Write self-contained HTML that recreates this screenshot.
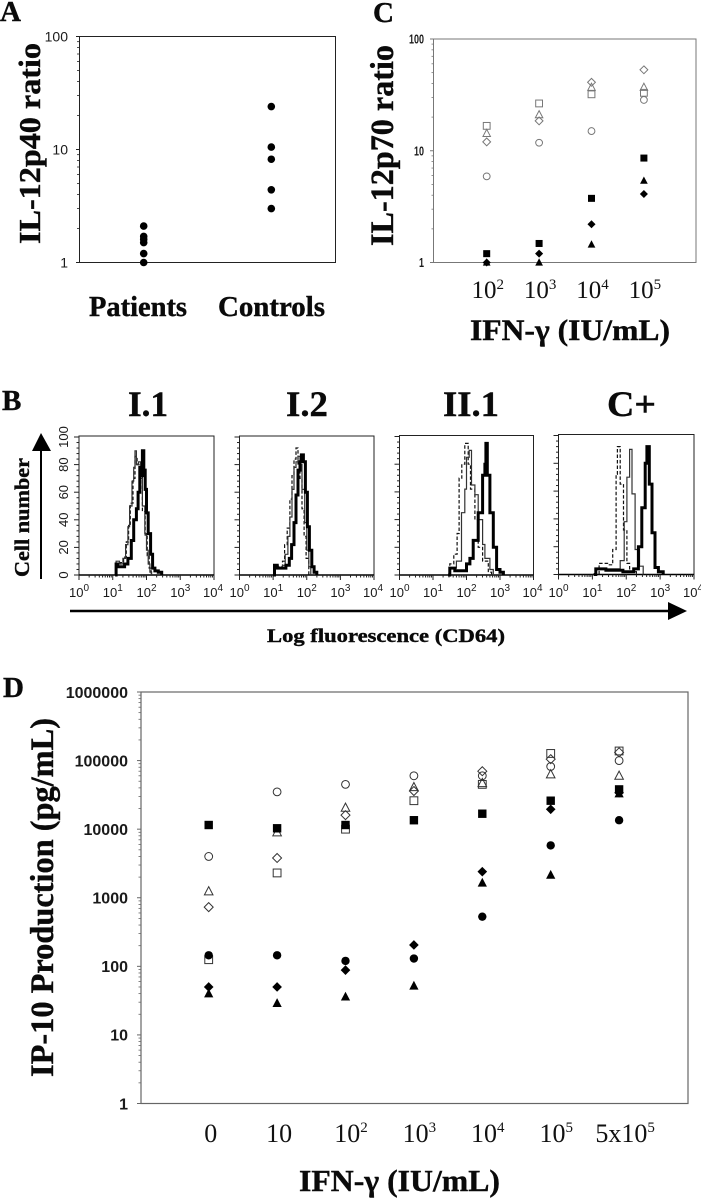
<!DOCTYPE html>
<html lang="en">
<head>
<meta charset="utf-8">
<title>Cytokine response panels</title>
<style>
  html, body { margin: 0; padding: 0; background: #fff; }
  svg { display: block; }
  .serif { font-family: "Liberation Serif", serif; font-weight: bold; fill: #0a0a0a; stroke: #0a0a0a; stroke-width: 0.4; }
  .sans { font-family: "Liberation Sans", sans-serif; fill: #1a1a1a; }
</style>
</head>
<body>
<svg id="figure" xmlns="http://www.w3.org/2000/svg" width="701" height="1199" viewBox="0 0 701 1199">
  <rect x="0" y="0" width="701" height="1199" fill="#fff"/>

  <text class="serif" x="0" y="21" font-size="29">A</text>
  <text class="serif" transform="translate(40,244) rotate(-90)" font-size="31" textLength="201" lengthAdjust="spacingAndGlyphs">IL-12p40 ratio</text>
  <text class="serif" x="89" y="316" font-size="28" textLength="98" lengthAdjust="spacingAndGlyphs">Patients</text>
  <text class="serif" x="218" y="316" font-size="28" textLength="107" lengthAdjust="spacingAndGlyphs">Controls</text>

  <text class="serif" x="373" y="22" font-size="29">C</text>
  <text class="serif" transform="translate(393,246) rotate(-90)" font-size="33" textLength="201" lengthAdjust="spacingAndGlyphs">IL-12p70 ratio</text>
  <text class="serif" x="470" y="340" font-size="30" textLength="200" lengthAdjust="spacingAndGlyphs">IFN-γ (IU/mL)</text>

  <text class="serif" x="2" y="410" font-size="29">B</text>
  <text class="serif" x="128" y="416" font-size="36" textLength="40" lengthAdjust="spacingAndGlyphs">I.1</text>
  <text class="serif" x="286" y="416" font-size="36" textLength="42" lengthAdjust="spacingAndGlyphs">I.2</text>
  <text class="serif" x="443" y="416" font-size="36" textLength="56" lengthAdjust="spacingAndGlyphs">II.1</text>
  <text class="serif" x="607" y="416" font-size="36" textLength="49" lengthAdjust="spacingAndGlyphs">C+</text>
  <text class="serif" transform="translate(29,577) rotate(-90)" font-size="21" textLength="119" lengthAdjust="spacingAndGlyphs">Cell number</text>
  <line x1="41" y1="579" x2="41" y2="448" stroke="#000" stroke-width="2"/>
  <polygon points="41,433 32,451 51,451" fill="#000"/>
  <line x1="70" y1="611" x2="670" y2="611" stroke="#000" stroke-width="2.6"/>
  <polygon points="687,611 668,602 668,620" fill="#000"/>
  <text class="serif" x="267" y="642" font-size="19" textLength="238" lengthAdjust="spacingAndGlyphs">Log fluorescence (CD64)</text>

  <text class="serif" x="3" y="697" font-size="29">D</text>
  <text class="serif" transform="translate(53,1077) rotate(-90)" font-size="33" textLength="359" lengthAdjust="spacingAndGlyphs">IP-10 Production (pg/mL)</text>
  <text class="serif" x="299" y="1191" font-size="31" textLength="201" lengthAdjust="spacingAndGlyphs">IFN-γ (IU/mL)</text>
</svg>

<script>
// ---------- Panel A ----------
const aCategories = ['Patients', 'Controls'];
const aPatients = [2.1, 1.7, 1.6, 1.5, 1.2, 1.0];
const aControls = [24, 10.5, 8.2, 4.4, 3.0];
const aTickLabels = [1, 10, 100];

// ---------- Panel C ----------
const cExponents = [2, 3, 4, 5];
const cTickLabels = [1, 10, 100];
const cOpenSquare = [16.7, 26.5, 32, 33];
const cOpenTriangle = [14.3, 21, 37, 37];
const cOpenDiamond = [12, 18.5, 41, 53];
const cOpenCircle = [5.9, 11.8, 15, 28.5];
const cFilledSquare = [1.2, 1.48, 3.75, 8.6];
const cFilledDiamond = [1.0, 1.2, 2.2, 4.1];
const cFilledTriangle = [1.0, 1.0, 1.45, 5.4];

// ---------- Panel D ----------
const dBases = ['0', '10', '10', '10', '10', '10', '5x10'];
const dExponents = ['', '', '2', '3', '4', '5', '5'];
const dTickLabels = [1, 10, 100, 1000, 10000, 100000, 1000000];
const dOpenCircle = [4000, 35000, 45000, 60000, 60000, 82000, 100000];
const dOpenTriangle = [1240, 9000, 20500, 41000, 47000, 63000, 60000];
const dOpenDiamond = [730, 3800, 16000, 36000, 70000, 105000, 132000];
const dOpenSquare = [125, 2300, 10000, 26000, 45000, 127000, 138000];
const dFilledSquare = [11500, 10300, 11500, 13500, 16800, 26000, 38000];
const dFilledCircle = [145, 145, 120, 130, 530, 5800, 13500];
const dFilledDiamond = [50, 50, 88, 205, 2400, 19500, 34000];
const dFilledTriangle = [40, 29, 36, 52, 1650, 2150, 33000];

// ---------- Panel B histograms: log10 fluorescence and cell counts ----------
const histYTicks = [0, 20, 40, 60, 80, 100];
const i1ThickLog = [1.07, 1.1, 1.15, 1.25, 1.35, 1.45, 1.55, 1.62, 1.7, 1.75, 1.8, 1.84, 1.88, 1.92, 1.96, 2.0, 2.05, 2.12, 2.18, 2.25, 2.35, 2.45];
const i1ThickCount = [0, 8, 6, 6, 8, 12, 25, 40, 48, 60, 78, 72, 90, 76, 62, 45, 30, 15, 5, 3, 2, 0];
const i1ThinLog = [1.05, 1.1, 1.2, 1.3, 1.38, 1.45, 1.5, 1.57, 1.62, 1.66, 1.7, 1.76, 1.82, 1.88, 1.95, 2.0, 2.05, 2.1, 2.15];
const i1ThinCount = [0, 10, 8, 12, 22, 35, 50, 68, 78, 90, 80, 82, 70, 50, 30, 18, 8, 2, 0];
const i1DashLog = [1.05, 1.12, 1.22, 1.32, 1.4, 1.47, 1.52, 1.6, 1.66, 1.72, 1.8, 1.88, 1.96, 2.02, 2.08, 2.14];
const i1DashCount = [0, 8, 9, 13, 24, 36, 52, 70, 86, 80, 76, 46, 28, 14, 5, 0];

const i2ThickLog = [1.0, 1.04, 1.12, 1.25, 1.38, 1.48, 1.55, 1.62, 1.68, 1.74, 1.8, 1.84, 1.9, 1.96, 2.02, 2.08, 2.15, 2.22, 2.3];
const i2ThickCount = [0, 7, 5, 5, 7, 12, 22, 38, 58, 76, 82, 87, 82, 60, 35, 18, 6, 2, 0];
const i2ThinLog = [1.0, 1.05, 1.15, 1.28, 1.36, 1.44, 1.5, 1.56, 1.62, 1.68, 1.74, 1.8, 1.86, 1.94, 2.0, 2.06, 2.12];
const i2ThinCount = [0, 7, 5, 7, 15, 28, 42, 62, 78, 82, 86, 80, 62, 38, 18, 6, 0];
const i2DashLog = [1.0, 1.06, 1.16, 1.28, 1.34, 1.42, 1.5, 1.56, 1.62, 1.68, 1.74, 1.8, 1.86, 1.92, 1.98, 2.06];
const i2DashCount = [0, 6, 6, 10, 22, 34, 55, 72, 84, 92, 80, 70, 48, 28, 12, 0];

const ii1ThickLog = [1.45, 1.5, 1.65, 1.8, 2.0, 2.1, 2.2, 2.35, 2.48, 2.55, 2.58, 2.62, 2.7, 2.8, 2.9, 3.0, 3.1];
const ii1ThickCount = [0, 5, 3, 3, 8, 12, 25, 45, 72, 80, 95, 72, 45, 20, 4, 2, 0];
const ii1ThinLog = [1.45, 1.5, 1.62, 1.7, 1.85, 1.95, 2.0, 2.08, 2.15, 2.25, 2.35, 2.48, 2.55, 2.7, 2.8];
const ii1ThinCount = [0, 5, 5, 10, 45, 62, 85, 90, 65, 58, 40, 22, 12, 4, 0];
const ii1DashLog = [1.45, 1.5, 1.62, 1.72, 1.78, 1.86, 1.95, 2.05, 2.12, 2.25, 2.35, 2.48, 2.65, 2.75];
const ii1DashCount = [0, 8, 15, 30, 70, 80, 95, 80, 62, 40, 20, 10, 2, 0];

const cpThickLog = [1.04, 1.1, 1.4, 1.6, 1.9, 2.1, 2.22, 2.36, 2.46, 2.56, 2.61, 2.68, 2.76, 2.85, 2.95, 3.09];
const cpThickCount = [0, 4, 3, 3, 2, 2, 4, 20, 48, 80, 92, 65, 30, 5, 2, 0];
const cpThinLog = [1.04, 1.1, 1.45, 1.7, 1.82, 1.94, 2.02, 2.1, 2.17, 2.26, 2.39, 2.5];
const cpThinCount = [0, 4, 4, 4, 10, 38, 70, 90, 58, 18, 6, 0];
const cpDashLog = [1.04, 1.2, 1.45, 1.6, 1.7, 1.74, 1.82, 1.92, 2.02, 2.1, 2.3];
const cpDashCount = [0, 8, 7, 18, 72, 92, 65, 32, 8, 2, 0];

const NS = 'http://www.w3.org/2000/svg';
const root = document.getElementById('figure');

function make(tag, parent, attrs) {
  const el = document.createElementNS(NS, tag);
  for (const k in attrs) el.setAttribute(k, attrs[k]);
  parent.appendChild(el);
  return el;
}

function logScale(bottom, top, minVal, maxVal) {
  const lo = Math.log10(minVal), hi = Math.log10(maxVal);
  return v => bottom - (Math.log10(v) - lo) / (hi - lo) * (bottom - top);
}

function marker(parent, shape, x, y, r, open, stroke, name) {
  const line = open ? stroke : '#000';
  const sw = open ? 1 : 0;
  const common = { fill: open ? 'none' : '#000', stroke: line, 'stroke-width': sw };
  let el;
  if (shape === 'circle') {
    el = make('circle', parent, Object.assign({ cx: x, cy: y, r: r }, common));
  } else if (shape === 'square') {
    el = make('rect', parent, Object.assign({ x: x - r, y: y - r, width: 2 * r, height: 2 * r }, common));
  } else if (shape === 'diamond') {
    el = make('polygon', parent, Object.assign({ points: [[x, y - r * 1.15], [x + r * 1.15, y], [x, y + r * 1.15], [x - r * 1.15, y]].join(' ') }, common));
  } else {
    el = make('polygon', parent, Object.assign({ points: [[x, y - r * 1.2], [x + r * 1.1, y + r * 0.9], [x - r * 1.1, y + r * 0.9]].join(' ') }, common));
  }
  
  
  return el;
}

function logFrame(name, box, yOf, decades, color, labelSize, labelX, labelWeight, major, minor, width, charWidth) {
  const g = make('g', root, {});
  
  
  const frame = make('rect', g, { x: box.x0, y: box.y0, width: box.x1 - box.x0, height: box.y1 - box.y0, fill: 'none', stroke: color, 'stroke-width': width });
  
  
  decades.forEach((d, i) => {
    const y = yOf(d);
    const mj = make('line', g, { x1: box.x0 - major, x2: box.x0, y1: y, y2: y, stroke: color, 'stroke-width': 1 });
    
    
    const t = make('text', g, { x: labelX, y: y + labelSize * 0.36, 'font-size': labelSize, 'text-anchor': 'end', class: 'sans', 'font-weight': labelWeight });
    t.textContent = d;
    if (charWidth) {
      t.setAttribute('textLength', String(d).length * charWidth);
      t.setAttribute('lengthAdjust', 'spacingAndGlyphs');
    }
    
    
    if (i < decades.length - 1) {
      for (let m = 2; m < 10; m++) {
        const ym = yOf(d * m);
        const mn = make('line', g, { x1: box.x0 - minor, x2: box.x0, y1: ym, y2: ym, stroke: color, 'stroke-width': 0.8 });
        
        
      }
    }
  });
}

function powerLabel(cx, baseline, base, exp, size, supSize, rise, name) {
  const t = make('text', root, { x: cx, y: baseline, 'font-size': size, 'text-anchor': 'middle', style: 'font-family:"Liberation Serif",serif;fill:#111' });
  const b = make('tspan', t, {});
  b.textContent = base;
  if (exp !== '') {
    const s = make('tspan', t, { dy: -rise, 'font-size': supSize });
    s.textContent = exp;
  }
  
  
  return t;
}

// Panel A render
const aBox = { x0: 79.5, x1: 335.5, y0: 36.5, y1: 262.5 };
const aY = logScale(aBox.y1, aBox.y0, 1, 100);
const aX = i => 143.7 + i * 127.6;
logFrame('panel-a', aBox, aY, aTickLabels, '#222', 14, 68, 'normal', 3.5, 2.5, 1, 0);
[aPatients, aControls].forEach((series, i) => {
  series.forEach(v => marker(root, 'circle', aX(i), aY(v), 3.8, false, '#000', 'point-' + aCategories[i].toLowerCase()));
});

// Panel C render
const cBox = { x0: 433.5, x1: 696, y0: 39, y1: 262.5 };
const cY = logScale(cBox.y1, cBox.y0, 1, 100);
const cX = i => 486.7 + i * 52.4;
logFrame('panel-c', cBox, cY, cTickLabels, '#777', 12.5, 424, 'bold', 3.5, 2, 1, 5);
const cSeries = [
  ['square', true, cOpenSquare, 'open-square'],
  ['triangle', true, cOpenTriangle, 'open-triangle'],
  ['diamond', true, cOpenDiamond, 'open-diamond'],
  ['circle', true, cOpenCircle, 'open-circle'],
  ['square', false, cFilledSquare, 'filled-square'],
  ['diamond', false, cFilledDiamond, 'filled-diamond'],
  ['triangle', false, cFilledTriangle, 'filled-triangle']
];
cSeries.forEach(s => {
  s[2].forEach((v, i) => marker(root, s[0], cX(i), cY(v), s[1] ? 3.4 : 3.5, s[1], '#777', 'panel-c-' + s[3] + '-point'));
});
cExponents.forEach((e, i) => powerLabel(cX(i) + 1, 298, '10', String(e), 25, 15, 9, 'panel-c-x-tick-label'));

// Panel D render
const dBox = { x0: 141, x1: 688, y0: 692, y1: 1103.5 };
const dY = logScale(dBox.y1, dBox.y0, 1, 1000000);
const dX = i => 208.7 + i * 68.4;
logFrame('panel-d', dBox, dY, dTickLabels, '#666', 16, 128, 'bold', 4, 2.5, 1.2, 0);
const dSeries = [
  ['circle', true, dOpenCircle, 'open-circle'],
  ['triangle', true, dOpenTriangle, 'open-triangle'],
  ['diamond', true, dOpenDiamond, 'open-diamond'],
  ['square', true, dOpenSquare, 'open-square'],
  ['square', false, dFilledSquare, 'filled-square'],
  ['circle', false, dFilledCircle, 'filled-circle'],
  ['diamond', false, dFilledDiamond, 'filled-diamond'],
  ['triangle', false, dFilledTriangle, 'filled-triangle']
];
dSeries.forEach(s => {
  s[2].forEach((v, i) => marker(root, s[0], dX(i), dY(v), s[1] ? 3.9 : 4.2, s[1], '#333', 'panel-d-' + s[3] + '-point'));
});
dBases.forEach((b, i) => {
  const off = i < 2 ? 2 : (i === 6 ? 6 : 5.5);
  powerLabel(dX(i) + off, 1142, b, dExponents[i], 26, 15, 10, 'panel-d-x-tick-label');
});

// Panel B render
const histPanels = [
  { name: 'i1', x0: 79, x1: 214, top: 436, base: 575, labels: true,
    curves: [[i1DashLog, i1DashCount, 'dash'], [i1ThinLog, i1ThinCount, 'thin'], [i1ThickLog, i1ThickCount, 'thick']] },
  { name: 'i2', x0: 239.5, x1: 374, top: 436, base: 575, labels: false,
    curves: [[i2DashLog, i2DashCount, 'dash'], [i2ThinLog, i2ThinCount, 'thin'], [i2ThickLog, i2ThickCount, 'thick']] },
  { name: 'ii1', x0: 399.5, x1: 533.5, top: 435.5, base: 575, labels: false,
    curves: [[ii1DashLog, ii1DashCount, 'dash'], [ii1ThinLog, ii1ThinCount, 'thin'], [ii1ThickLog, ii1ThickCount, 'thick']] },
  { name: 'control', x0: 558.5, x1: 694, top: 434.5, base: 574.5, labels: false,
    curves: [[cpDashLog, cpDashCount, 'dash'], [cpThinLog, cpThinCount, 'thin'], [cpThickLog, cpThickCount, 'thick']] }
];
const curveStyle = {
  dash: { stroke: '#111', 'stroke-width': 1.2, 'stroke-dasharray': '3.5 2' },
  thin: { stroke: '#333', 'stroke-width': 1.2 },
  thick: { stroke: '#000', 'stroke-width': 3 }
};
histPanels.forEach(p => {
  const xOf = l => p.x0 + l * (p.x1 - p.x0) / 4;
  const yOf = c => p.base - c * (p.base - p.top - 1) / 100;
  const g = make('g', root, {});
  
  
  const frame = make('rect', g, { x: p.x0, y: p.top, width: p.x1 - p.x0, height: p.base - p.top, fill: 'none', stroke: '#222', 'stroke-width': 1 });
  
  
  const axis = make('line', g, { x1: p.x0, x2: p.x1, y1: p.base, y2: p.base, stroke: '#000', 'stroke-width': 1.6 });
  
  
  histYTicks.forEach(c => {
    for (let k = 0; k < 5 && (c < 100 || k === 0); k++) {
      const y = yOf(c + k * 4);
      const tick = make('line', g, { x1: p.x0 - (k === 0 ? 5 : 2.5), x2: p.x0, y1: y, y2: y, stroke: '#222', 'stroke-width': 1 });
      
      
    }
    if (p.labels) {
      const yl = yOf(c);
      const t = make('text', g, { transform: 'translate(68,' + yl + ') rotate(-90)', 'font-size': 13, 'text-anchor': 'middle', class: 'sans' });
      t.textContent = c;
      
      
    }
  });
  for (let d = 0; d < 4; d++) {
    for (let m = 1; m < 10; m++) {
      const x = xOf(d + Math.log10(m));
      const tick = make('line', g, { x1: x, x2: x, y1: p.base, y2: p.base + (m === 1 ? 5 : 2.5), stroke: '#222', 'stroke-width': 1 });
      
      
    }
  }
  const lastTick = make('line', g, { x1: p.x1, x2: p.x1, y1: p.base, y2: p.base + 5, stroke: '#222', 'stroke-width': 1 });
  
  
  for (let d = 0; d <= 4; d++) {
    const t = make('text', g, { x: xOf(d) + (d === 4 ? -1 : 0), y: 597, 'font-size': 13, 'text-anchor': 'middle', class: 'sans' });
    const b = make('tspan', t, {});
    b.textContent = '10';
    const s = make('tspan', t, { dy: -6, 'font-size': 10 });
    s.textContent = String(d);
    
    
  }
  p.curves.forEach(cv => {
    const stepped = [];
    cv[0].forEach((l, i) => {
      stepped.push(xOf(l).toFixed(1) + ',' + yOf(cv[1][i]).toFixed(1));
      if (i + 1 < cv[0].length) {
        stepped.push(xOf(cv[0][i + 1]).toFixed(1) + ',' + yOf(cv[1][i]).toFixed(1));
      }
    });
    const line = make('polyline', g, Object.assign({ points: stepped.join(' '), fill: 'none', 'stroke-linejoin': 'miter' }, curveStyle[cv[2]]));
    
    
  });
});
</script>
</body>
</html>
